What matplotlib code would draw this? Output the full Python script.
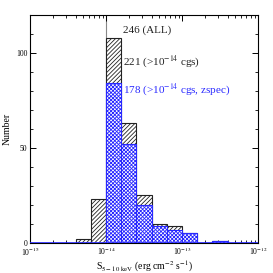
import matplotlib
matplotlib.use("Agg")
import matplotlib.pyplot as plt
import numpy as np

plt.rcParams["font.family"] = ["Liberation Serif", "DejaVu Serif"]
plt.rcParams["mathtext.fontset"] = "stix"
plt.rcParams["hatch.linewidth"] = 0.6

# log10 flux bin edges (0.2 dex bins)
bin_edges = [-14.4, -14.2, -14.0, -13.8, -13.6, -13.4, -13.2, -13.0, -12.8, -12.6, -12.4]
counts_all = [2, 23, 108, 63, 25, 10, 9, 5, 0, 1]
counts_zspec = [0, 0, 84, 52, 20, 9, 7, 5, 0, 1]

labels = ["246 (ALL)", r"221 (>10$^{-14}$ cgs)", r"178 (>10$^{-14}$ cgs, zspec)"]
label_colors = ["#222222", "#222222", "#2828ff"]
blue = "#2828ff"

edges = 10.0 ** np.array(bin_edges)
left = edges[:-1]
width = edges[1:] - edges[:-1]

fig = plt.figure(figsize=(2.73, 2.73), dpi=100)
ax = fig.add_axes([0.110, 0.110, 0.835, 0.835])

ax.bar(left, counts_all, width=width, align="edge", facecolor="white",
       edgecolor="#222222", hatch="////////", linewidth=0.8, zorder=2)
ax.bar(left, counts_zspec, width=width, align="edge", facecolor="white",
       edgecolor=blue, hatch="xxxxxxxxx", linewidth=0.8, zorder=3)
ax.axhline(0, color=blue, lw=1.2, zorder=4)
ax.axvline(1e-14, color="#888888", lw=0.8, zorder=1)

ax.set_xscale("log")
ax.set_xlim(1e-15, 1e-12)
ax.set_ylim(0, 120)
ax.set_yticks([0, 50, 100])
ax.set_yticks(np.arange(0, 121, 10), minor=True)
ax.set_xticks([1e-15, 1e-14, 1e-13, 1e-12])
ax.set_xticklabels([r"10$^{-15}$", r"10$^{-14}$", r"10$^{-13}$", r"10$^{-12}$"])
ax.tick_params(which="both", direction="in", top=True, right=True, labelsize=5.5, pad=2)
ax.tick_params(which="major", length=4, width=0.7)
ax.tick_params(which="minor", length=2, width=0.6)
for s in ax.spines.values():
    s.set_linewidth(0.8)

ax.set_ylabel("Number", fontsize=7, labelpad=3)
ax.set_xlabel(r"S$_{\rm 5-10\ keV}$ (erg cm$^{-2}$ s$^{-1}$)", fontsize=7, labelpad=1)

text_y = [112, 96, 81]
for txt, c, yv in zip(labels, label_colors, text_y):
    ax.text(1.65e-14, yv, txt, color=c, fontsize=8, va="center", ha="left", zorder=5)

fig.savefig("out.png", dpi=100)
